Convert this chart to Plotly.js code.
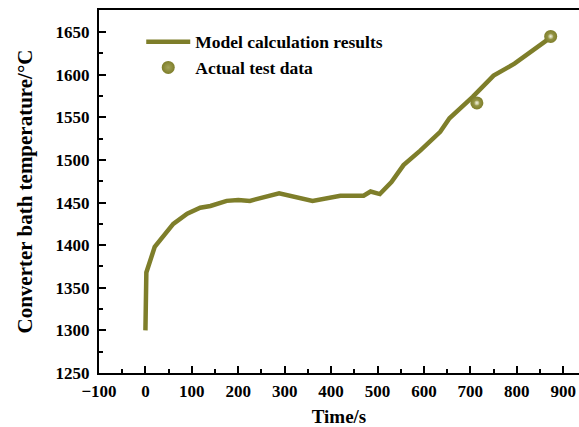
<!DOCTYPE html>
<html>
<head>
<meta charset="utf-8">
<script src="https://cdn.plot.ly/plotly-3.0.1.min.js"></script>
<style>
  html, body { margin: 0; padding: 0; background: #ffffff; }
  #chart { width: 579px; height: 427px; }
</style>
</head>
<body>
<div id="chart"></div>
<script>
// Model calculation of the converter bath temperature over blowing time
const modelTime = [0, 2, 20, 40, 60, 90, 118, 140, 175, 200, 225, 288, 333, 360, 420, 470, 485, 505, 530, 556, 592, 635, 655, 705, 750, 795, 871];
const modelTemp = [1300, 1368, 1398, 1412, 1425, 1437, 1444, 1446, 1452, 1453, 1452, 1461, 1455, 1452, 1458, 1458, 1463, 1460, 1474, 1494, 1511, 1533, 1549, 1574, 1599, 1613, 1643];

// Measured bath temperatures
const testTime = [714, 873];
const testTemp = [1567, 1645];

const olive = '#7e7e2a';
const serif = 'Liberation Serif, Times New Roman, serif';

const traces = [
  {
    x: modelTime,
    y: modelTemp,
    type: 'scatter',
    mode: 'lines',
    name: 'Model calculation results',
    line: { color: olive, width: 4.5 },
    hoverinfo: 'skip'
  },
  {
    x: testTime,
    y: testTemp,
    type: 'scatter',
    mode: 'markers',
    name: 'Actual test data',
    marker: {
      size: 13,
      color: olive,
      gradient: { type: 'radial', color: '#a4a45a' },
      line: { width: 0 }
    },
    hoverinfo: 'skip'
  },
  // small glossy highlight on each measured point
  {
    x: testTime,
    y: testTemp,
    type: 'scatter',
    mode: 'markers',
    showlegend: false,
    marker: {
      size: 5,
      color: '#b0b070',
      gradient: { type: 'radial', color: '#f4f4e4' },
      line: { width: 0 }
    },
    hoverinfo: 'skip'
  }
];

const tickFont = { family: serif, size: 17, color: '#000000', weight: 'bold' };

const layout = {
  width: 579,
  height: 427,
  margin: { l: 99, r: 0, t: 10, b: 54 },
  paper_bgcolor: '#ffffff',
  plot_bgcolor: '#ffffff',
  showlegend: true,
  legend: {
    x: 0.088,
    y: 0.962,
    xanchor: 'left',
    yanchor: 'top',
    bgcolor: 'rgba(0,0,0,0)',
    font: { family: serif, size: 17.5, color: '#000000', weight: 'bold' },
    itemwidth: 44
  },
  xaxis: {
    range: [-100, 934],
    tickmode: 'linear',
    tick0: -100,
    dtick: 100,
    ticks: 'inside',
    ticklen: 7,
    tickwidth: 2,
    tickcolor: '#000000',
    minor: { dtick: 50, ticks: 'inside', ticklen: 4, tickwidth: 2, tickcolor: '#000000' },
    showline: true,
    linewidth: 2,
    linecolor: '#000000',
    mirror: true,
    showgrid: false,
    zeroline: false,
    tickfont: tickFont,
    ticklabelstandoff: 2,
    title: { text: 'Time/s', font: { family: serif, size: 19, color: '#000000', weight: 'bold' }, standoff: 11 }
  },
  yaxis: {
    range: [1250, 1676],
    tickmode: 'linear',
    tick0: 1250,
    dtick: 50,
    ticks: 'inside',
    ticklen: 7,
    tickwidth: 2,
    tickcolor: '#000000',
    minor: { dtick: 25, ticks: 'inside', ticklen: 4, tickwidth: 2, tickcolor: '#000000' },
    showline: true,
    linewidth: 2,
    linecolor: '#000000',
    showgrid: false,
    zeroline: false,
    tickfont: tickFont,
    ticklabelstandoff: 4,
    title: { text: 'Converter bath temperature/°C', font: { family: serif, size: 21, color: '#000000', weight: 'bold' }, standoff: 17 }
  }
};

Plotly.newPlot('chart', traces, layout, { displayModeBar: false, staticPlot: true });
</script>
</body>
</html>
